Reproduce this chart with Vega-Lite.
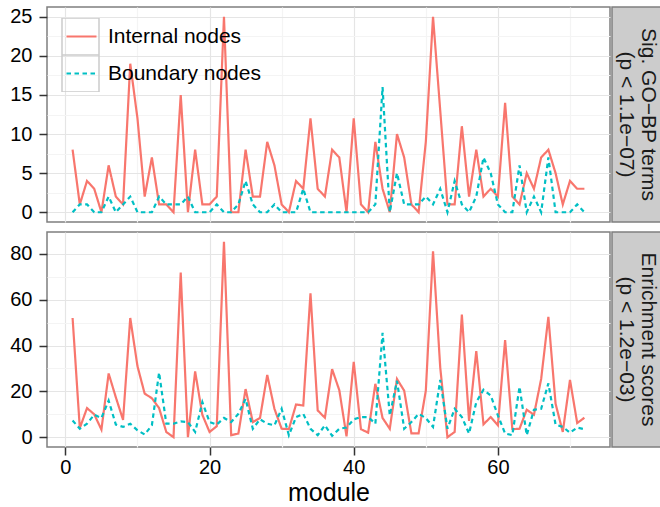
{
  "$schema": "https://vega.github.io/schema/vega-lite/v6.json",
  "padding": {"left": 9, "top": 6, "right": 0, "bottom": 0},
  "background": "white",
  "datasets": {
    "go_terms": [
      {"module": 1, "Internal nodes": 8, "Boundary nodes": 0},
      {"module": 2, "Internal nodes": 1, "Boundary nodes": 1},
      {"module": 3, "Internal nodes": 4, "Boundary nodes": 1},
      {"module": 4, "Internal nodes": 3, "Boundary nodes": 0},
      {"module": 5, "Internal nodes": 0, "Boundary nodes": 0},
      {"module": 6, "Internal nodes": 6, "Boundary nodes": 2},
      {"module": 7, "Internal nodes": 2, "Boundary nodes": 0},
      {"module": 8, "Internal nodes": 1, "Boundary nodes": 1},
      {"module": 9, "Internal nodes": 19, "Boundary nodes": 2},
      {"module": 10, "Internal nodes": 12, "Boundary nodes": 0},
      {"module": 11, "Internal nodes": 2, "Boundary nodes": 0},
      {"module": 12, "Internal nodes": 7, "Boundary nodes": 0},
      {"module": 13, "Internal nodes": 1, "Boundary nodes": 2},
      {"module": 14, "Internal nodes": 1, "Boundary nodes": 1},
      {"module": 15, "Internal nodes": 0, "Boundary nodes": 1},
      {"module": 16, "Internal nodes": 15, "Boundary nodes": 1},
      {"module": 17, "Internal nodes": 0, "Boundary nodes": 2},
      {"module": 18, "Internal nodes": 8, "Boundary nodes": 0},
      {"module": 19, "Internal nodes": 1, "Boundary nodes": 0},
      {"module": 20, "Internal nodes": 1, "Boundary nodes": 0},
      {"module": 21, "Internal nodes": 2, "Boundary nodes": 1},
      {"module": 22, "Internal nodes": 25, "Boundary nodes": 0},
      {"module": 23, "Internal nodes": 0, "Boundary nodes": 0},
      {"module": 24, "Internal nodes": 0, "Boundary nodes": 1},
      {"module": 25, "Internal nodes": 8, "Boundary nodes": 4},
      {"module": 26, "Internal nodes": 2, "Boundary nodes": 1},
      {"module": 27, "Internal nodes": 2, "Boundary nodes": 0},
      {"module": 28, "Internal nodes": 9, "Boundary nodes": 0},
      {"module": 29, "Internal nodes": 6, "Boundary nodes": 1},
      {"module": 30, "Internal nodes": 1, "Boundary nodes": 0},
      {"module": 31, "Internal nodes": 0, "Boundary nodes": 0},
      {"module": 32, "Internal nodes": 4, "Boundary nodes": 0},
      {"module": 33, "Internal nodes": 3, "Boundary nodes": 3},
      {"module": 34, "Internal nodes": 12, "Boundary nodes": 0},
      {"module": 35, "Internal nodes": 3, "Boundary nodes": 0},
      {"module": 36, "Internal nodes": 2, "Boundary nodes": 0},
      {"module": 37, "Internal nodes": 8, "Boundary nodes": 0},
      {"module": 38, "Internal nodes": 7, "Boundary nodes": 0},
      {"module": 39, "Internal nodes": 0, "Boundary nodes": 0},
      {"module": 40, "Internal nodes": 12, "Boundary nodes": 0},
      {"module": 41, "Internal nodes": 1, "Boundary nodes": 0},
      {"module": 42, "Internal nodes": 0, "Boundary nodes": 0},
      {"module": 43, "Internal nodes": 9, "Boundary nodes": 1},
      {"module": 44, "Internal nodes": 3, "Boundary nodes": 16},
      {"module": 45, "Internal nodes": 0, "Boundary nodes": 0},
      {"module": 46, "Internal nodes": 10, "Boundary nodes": 5},
      {"module": 47, "Internal nodes": 7, "Boundary nodes": 1},
      {"module": 48, "Internal nodes": 1, "Boundary nodes": 1},
      {"module": 49, "Internal nodes": 0, "Boundary nodes": 1},
      {"module": 50, "Internal nodes": 9, "Boundary nodes": 2},
      {"module": 51, "Internal nodes": 25, "Boundary nodes": 1},
      {"module": 52, "Internal nodes": 13, "Boundary nodes": 3},
      {"module": 53, "Internal nodes": 1, "Boundary nodes": 0},
      {"module": 54, "Internal nodes": 1, "Boundary nodes": 4},
      {"module": 55, "Internal nodes": 11, "Boundary nodes": 1},
      {"module": 56, "Internal nodes": 2, "Boundary nodes": 0},
      {"module": 57, "Internal nodes": 8, "Boundary nodes": 2},
      {"module": 58, "Internal nodes": 2, "Boundary nodes": 7},
      {"module": 59, "Internal nodes": 3, "Boundary nodes": 5},
      {"module": 60, "Internal nodes": 2, "Boundary nodes": 1},
      {"module": 61, "Internal nodes": 14, "Boundary nodes": 0},
      {"module": 62, "Internal nodes": 2, "Boundary nodes": 0},
      {"module": 63, "Internal nodes": 1, "Boundary nodes": 6},
      {"module": 64, "Internal nodes": 5, "Boundary nodes": 0},
      {"module": 65, "Internal nodes": 3, "Boundary nodes": 2},
      {"module": 66, "Internal nodes": 7, "Boundary nodes": 0},
      {"module": 67, "Internal nodes": 8, "Boundary nodes": 7},
      {"module": 68, "Internal nodes": 5, "Boundary nodes": 0},
      {"module": 69, "Internal nodes": 1, "Boundary nodes": 0},
      {"module": 70, "Internal nodes": 4, "Boundary nodes": 0},
      {"module": 71, "Internal nodes": 3, "Boundary nodes": 1},
      {"module": 72, "Internal nodes": 3, "Boundary nodes": 0}
    ],
    "enrichment": [
      {"module": 1, "Internal nodes": 52, "Boundary nodes": 7.3},
      {"module": 2, "Internal nodes": 4, "Boundary nodes": 3.7},
      {"module": 3, "Internal nodes": 12.7, "Boundary nodes": 5.9},
      {"module": 4, "Internal nodes": 10, "Boundary nodes": 9.8},
      {"module": 5, "Internal nodes": 3.3, "Boundary nodes": 8.4},
      {"module": 6, "Internal nodes": 27.8, "Boundary nodes": 16},
      {"module": 7, "Internal nodes": 17.4, "Boundary nodes": 5.5},
      {"module": 8, "Internal nodes": 7.6, "Boundary nodes": 4.5},
      {"module": 9, "Internal nodes": 52, "Boundary nodes": 5.9},
      {"module": 10, "Internal nodes": 31, "Boundary nodes": 3},
      {"module": 11, "Internal nodes": 19, "Boundary nodes": 1.2},
      {"module": 12, "Internal nodes": 17, "Boundary nodes": 5.2},
      {"module": 13, "Internal nodes": 12.7, "Boundary nodes": 28.2},
      {"module": 14, "Internal nodes": 2.3, "Boundary nodes": 5.9},
      {"module": 15, "Internal nodes": 0, "Boundary nodes": 5.9},
      {"module": 16, "Internal nodes": 71.8, "Boundary nodes": 6.9},
      {"module": 17, "Internal nodes": 0, "Boundary nodes": 6.6},
      {"module": 18, "Internal nodes": 28.7, "Boundary nodes": 2.3},
      {"module": 19, "Internal nodes": 9.8, "Boundary nodes": 15.3},
      {"module": 20, "Internal nodes": 2.3, "Boundary nodes": 6.6},
      {"module": 21, "Internal nodes": 4.8, "Boundary nodes": 5.5},
      {"module": 22, "Internal nodes": 85.2, "Boundary nodes": 8.4},
      {"module": 23, "Internal nodes": 0.9, "Boundary nodes": 6.6},
      {"module": 24, "Internal nodes": 1.6, "Boundary nodes": 10.2},
      {"module": 25, "Internal nodes": 21, "Boundary nodes": 16.7},
      {"module": 26, "Internal nodes": 6.6, "Boundary nodes": 3.7},
      {"module": 27, "Internal nodes": 8.4, "Boundary nodes": 7.8},
      {"module": 28, "Internal nodes": 27.2, "Boundary nodes": 5.9},
      {"module": 29, "Internal nodes": 12.4, "Boundary nodes": 5.2},
      {"module": 30, "Internal nodes": 3.7, "Boundary nodes": 12.4},
      {"module": 31, "Internal nodes": 3.5, "Boundary nodes": 0.9},
      {"module": 32, "Internal nodes": 14.3, "Boundary nodes": 8.8},
      {"module": 33, "Internal nodes": 13.8, "Boundary nodes": 10.2},
      {"module": 34, "Internal nodes": 62.8, "Boundary nodes": 3.7},
      {"module": 35, "Internal nodes": 11.7, "Boundary nodes": 0.9},
      {"module": 36, "Internal nodes": 8.5, "Boundary nodes": 5.2},
      {"module": 37, "Internal nodes": 29.7, "Boundary nodes": 0.6},
      {"module": 38, "Internal nodes": 20.5, "Boundary nodes": 3.7},
      {"module": 39, "Internal nodes": 0.4, "Boundary nodes": 4.2},
      {"module": 40, "Internal nodes": 32.9, "Boundary nodes": 7.8},
      {"module": 41, "Internal nodes": 3.5, "Boundary nodes": 8.8},
      {"module": 42, "Internal nodes": 2, "Boundary nodes": 8.8},
      {"module": 43, "Internal nodes": 23.3, "Boundary nodes": 5.9},
      {"module": 44, "Internal nodes": 8.4, "Boundary nodes": 45.5},
      {"module": 45, "Internal nodes": 3.7, "Boundary nodes": 9.5},
      {"module": 46, "Internal nodes": 25.4, "Boundary nodes": 24.6},
      {"module": 47, "Internal nodes": 20.3, "Boundary nodes": 3.7},
      {"module": 48, "Internal nodes": 1.7, "Boundary nodes": 6.6},
      {"module": 49, "Internal nodes": 1.7, "Boundary nodes": 10.2},
      {"module": 50, "Internal nodes": 20.3, "Boundary nodes": 8.4},
      {"module": 51, "Internal nodes": 81.1, "Boundary nodes": 4.5},
      {"module": 52, "Internal nodes": 30.4, "Boundary nodes": 25},
      {"module": 53, "Internal nodes": 0, "Boundary nodes": 3.7},
      {"module": 54, "Internal nodes": 2.3, "Boundary nodes": 12.4},
      {"module": 55, "Internal nodes": 53.5, "Boundary nodes": 8.8},
      {"module": 56, "Internal nodes": 7.1, "Boundary nodes": 1.6},
      {"module": 57, "Internal nodes": 37.6, "Boundary nodes": 15.3},
      {"module": 58, "Internal nodes": 5.6, "Boundary nodes": 20.7},
      {"module": 59, "Internal nodes": 8.8, "Boundary nodes": 18.2},
      {"module": 60, "Internal nodes": 5.2, "Boundary nodes": 9.5},
      {"module": 61, "Internal nodes": 42.4, "Boundary nodes": 1.6},
      {"module": 62, "Internal nodes": 3.5, "Boundary nodes": 0.9},
      {"module": 63, "Internal nodes": 3.7, "Boundary nodes": 22},
      {"module": 64, "Internal nodes": 12, "Boundary nodes": 0.9},
      {"module": 65, "Internal nodes": 9.8, "Boundary nodes": 12},
      {"module": 66, "Internal nodes": 25.4, "Boundary nodes": 12.4},
      {"module": 67, "Internal nodes": 52.5, "Boundary nodes": 23.5},
      {"module": 68, "Internal nodes": 14.6, "Boundary nodes": 5.5},
      {"module": 69, "Internal nodes": 2.3, "Boundary nodes": 4.5},
      {"module": 70, "Internal nodes": 25, "Boundary nodes": 2},
      {"module": 71, "Internal nodes": 6.2, "Boundary nodes": 4.2},
      {"module": 72, "Internal nodes": 8.5, "Boundary nodes": 3.5}
    ]
  },
  "vconcat": [
    {
      "hconcat": [
        {
          "width": 563,
          "height": 215,
          "data": {"name": "go_terms"},
          "transform": [{"fold": ["Internal nodes", "Boundary nodes"], "as": ["nodes", "value"]}],
          "encoding": {
            "x": {
              "field": "module", "type": "quantitative",
              "scale": {"domain": [-2.55, 75.55], "nice": false, "zero": false},
              "axis": {
                "values": [0, 10, 20, 30, 40, 50, 60, 70],
                "labels": false, "ticks": false, "title": null,
                "gridColor": {"condition": {"test": "datum.value % 20 === 0", "value": "#E5E5E5"}, "value": "#F4F4F4"}
              }
            },
            "y": {
              "field": "value", "type": "quantitative",
              "scale": {"domain": [-1.25, 26.25], "nice": false, "zero": false},
              "axis": {
                "values": [0, 2.5, 5, 7.5, 10, 12.5, 15, 17.5, 20, 22.5, 25],
                "labelExpr": "datum.value % 5 === 0 ? datum.label : ''",
                "tickOpacity": {"condition": {"test": "datum.value % 5 === 0", "value": 1}, "value": 0},
                "gridColor": {"condition": {"test": "datum.value % 5 === 0", "value": "#E5E5E5"}, "value": "#F4F4F4"},
                "title": null
              }
            }
          },
          "layer": [
            {
              "mark": {"type": "point", "opacity": 0, "color": "#CCCCCC"},
              "encoding": {
                "shape": {
                  "field": "nodes", "type": "nominal",
                  "scale": {"domain": ["Boundary nodes", "Internal nodes"], "range": ["square", "square"]},
                  "legend": {
                    "title": null, "orient": "none", "legendX": 14, "legendY": 11, "padding": 0,
                    "symbolType": "square", "symbolSize": 1369, "rowPadding": 0, "clipHeight": 37,
                    "symbolStrokeColor": "#CCCCCC", "symbolStrokeWidth": 1.5, "symbolFillColor": "#FFFFFF", "symbolOpacity": 1,
                    "labelExpr": "''", "labelOffset": 0,
                    "encode": {"entries": {"update": {"height": {"value": 37}}}}
                  }
                }
              }
            },
            {
              "mark": {"type": "line", "strokeWidth": 2.2},
              "encoding": {
                "color": {
                  "field": "nodes", "type": "nominal",
                  "scale": {"domain": ["Internal nodes", "Boundary nodes"], "range": ["#F8766D", "#00BFC4"]},
                  "legend": {
                    "title": null, "orient": "none", "legendX": 14, "legendY": 11, "padding": 0,
                    "symbolType": "stroke", "symbolSize": 900, "symbolStrokeWidth": 2.2,
                    "symbolOffset": 4, "labelOffset": 10, "rowPadding": 0, "clipHeight": 37,
                    "labelFontSize": 21, "labelColor": "#000000", "labelFont": "Liberation Sans",
                    "encode": {"entries": {"update": {"height": {"value": 37}}}}
                  }
                },
                "strokeDash": {
                  "field": "nodes", "type": "nominal",
                  "scale": {"domain": ["Internal nodes", "Boundary nodes"], "range": [[1, 0], [4.5, 3.5]]},
                  "legend": {
                    "title": null, "orient": "none", "legendX": 14, "legendY": 11, "padding": 0,
                    "symbolType": "stroke", "symbolSize": 900, "symbolStrokeWidth": 2.2,
                    "symbolOffset": 4, "labelOffset": 10, "rowPadding": 0, "clipHeight": 37,
                    "labelFontSize": 21, "labelColor": "#000000", "labelFont": "Liberation Sans",
                    "encode": {"entries": {"update": {"height": {"value": 37}}}}
                  }
                }
              }
            }
          ]
        },
        {
          "width": 49,
          "height": 215,
          "view": {"fill": "#CCCCCC", "stroke": "#7F7F7F", "strokeWidth": 1.5},
          "data": {"values": [{"panel": "Sig. GO−BP terms\n(p < 1.1e−07)"}]},
          "mark": {"type": "text", "angle": 90, "fontSize": 21, "lineBreak": "\n", "lineHeight": 22, "dy": -11, "color": "#1A1A1A", "align": "center", "baseline": "middle", "font": "Liberation Sans"},
          "encoding": {"text": {"field": "panel"}}
        }
      ],
      "spacing": 0,
      "resolve": {"legend": {"color": "independent", "strokeDash": "independent", "shape": "independent"}}
    },
    {
      "hconcat": [
        {
          "width": 563,
          "height": 215,
          "data": {"name": "enrichment"},
          "transform": [{"fold": ["Internal nodes", "Boundary nodes"], "as": ["nodes", "value"]}],
          "mark": {"type": "line", "strokeWidth": 2.2},
          "encoding": {
            "x": {
              "field": "module", "type": "quantitative",
              "scale": {"domain": [-2.55, 75.55], "nice": false, "zero": false},
              "axis": {
                "values": [0, 10, 20, 30, 40, 50, 60, 70],
                "labelExpr": "datum.value % 20 === 0 ? datum.label : ''",
                "tickOpacity": {"condition": {"test": "datum.value % 20 === 0", "value": 1}, "value": 0},
                "gridColor": {"condition": {"test": "datum.value % 20 === 0", "value": "#E5E5E5"}, "value": "#F4F4F4"},
                "title": "module", "titleFontSize": 25, "titleFontWeight": "normal", "titleColor": "#000000", "titlePadding": 3
              }
            },
            "y": {
              "field": "value", "type": "quantitative",
              "scale": {"domain": [-4.26, 89.5], "nice": false, "zero": false},
              "axis": {
                "values": [0, 10, 20, 30, 40, 50, 60, 70, 80],
                "labelExpr": "datum.value % 20 === 0 ? datum.label : ''",
                "tickOpacity": {"condition": {"test": "datum.value % 20 === 0", "value": 1}, "value": 0},
                "gridColor": {"condition": {"test": "datum.value % 20 === 0", "value": "#E5E5E5"}, "value": "#F4F4F4"},
                "title": null
              }
            },
            "color": {
              "field": "nodes", "type": "nominal",
              "scale": {"domain": ["Internal nodes", "Boundary nodes"], "range": ["#F8766D", "#00BFC4"]},
              "legend": null
            },
            "strokeDash": {
              "field": "nodes", "type": "nominal",
              "scale": {"domain": ["Internal nodes", "Boundary nodes"], "range": [[1, 0], [4.5, 3.5]]},
              "legend": null
            }
          }
        },
        {
          "width": 49,
          "height": 215,
          "view": {"fill": "#CCCCCC", "stroke": "#7F7F7F", "strokeWidth": 1.5},
          "data": {"values": [{"panel": "Enrichment scores\n(p < 1.2e−03)"}]},
          "mark": {"type": "text", "angle": 90, "fontSize": 21, "lineBreak": "\n", "lineHeight": 22, "dy": -11, "color": "#1A1A1A", "align": "center", "baseline": "middle", "font": "Liberation Sans"},
          "encoding": {"text": {"field": "panel"}}
        }
      ],
      "spacing": 0,
      "resolve": {"legend": {"color": "independent", "strokeDash": "independent"}}
    }
  ],
  "spacing": 8,
  "resolve": {"legend": {"color": "independent", "strokeDash": "independent", "shape": "independent"}},
  "config": {
    "font": "Liberation Sans",
    "view": {"stroke": "#7F7F7F", "strokeWidth": 1.5},
    "axis": {
      "labelFont": "Liberation Sans", "labelFontSize": 20, "labelColor": "#000000",
      "labelOverlap": false, "labelFlush": false,
      "tickColor": "#333333", "tickWidth": 1.5, "tickSize": 8,
      "domain": false, "gridWidth": 1.2
    },
    "axisX": {"labelPadding": 2},
    "axisY": {"labelPadding": 7}
  }
}
